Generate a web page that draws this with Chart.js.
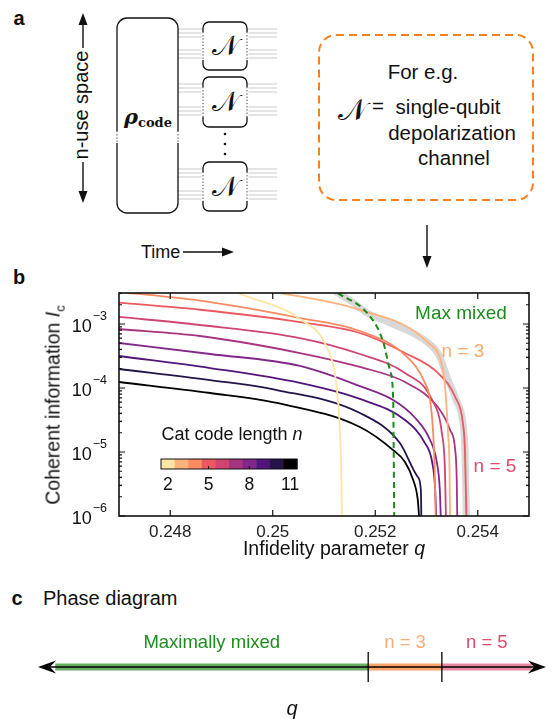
<!DOCTYPE html>
<html>
<head>
<meta charset="utf-8">
<script src="https://cdn.jsdelivr.net/npm/chart.js@4.4.1/dist/chart.umd.min.js"></script>
<style>
  html, body { margin: 0; padding: 0; background: #fff; }
  #page { position: relative; width: 555px; height: 719px; overflow: hidden;
          font-family: "Liberation Sans", Arial, sans-serif; color: #111; }
  .t { position: absolute; transform: translate(-50%, -50%); white-space: nowrap; line-height: 1; }
  canvas { position: absolute; left: 0; }
</style>
</head>
<body>
<div id="page">
  <svg id="schem" width="555" height="270" style="position:absolute;left:0;top:0"
       font-family="Liberation Sans, Arial, sans-serif" fill="#111">
    <text x="19" y="25" font-size="20" font-weight="bold" text-anchor="middle">a</text>
    <line x1="83" y1="48" x2="83" y2="22" stroke="#111" stroke-width="1.4"/>
    <polygon points="83,13 78.5,25 87.5,25"/>
    <line x1="83" y1="162" x2="83" y2="194" stroke="#111" stroke-width="1.4"/>
    <polygon points="83,203 78.5,191 87.5,191"/>
    <text transform="translate(88,105) rotate(-90)" font-size="20" text-anchor="middle">n-use space</text>
    <g id="wires"></g>
    <rect x="117" y="18" width="61" height="195" rx="10" fill="#fff" stroke="#111" stroke-width="1.3"/>
    <line x1="117" y1="131" x2="117" y2="143" stroke="#fff" stroke-width="3"/>
    <line x1="178" y1="131" x2="178" y2="143" stroke="#fff" stroke-width="3"/>
    <line x1="117" y1="131" x2="117" y2="143" stroke="#333" stroke-width="1" stroke-dasharray="1.2 2"/>
    <line x1="178" y1="131" x2="178" y2="143" stroke="#333" stroke-width="1" stroke-dasharray="1.2 2"/>
    <text x="148" y="124" text-anchor="middle" font-family="DejaVu Serif, serif" font-weight="bold"><tspan font-style="italic" font-size="21">ρ</tspan><tspan font-size="13" dy="3">code</tspan></text>
    <g id="boxes"></g>
    <circle cx="225" cy="134" r="1.3"/>
    <circle cx="225" cy="144" r="1.3"/>
    <circle cx="225" cy="154" r="1.3"/>
    <text x="141" y="258" font-size="18">Time</text>
    <line x1="183" y1="252" x2="226" y2="252" stroke="#111" stroke-width="1.4"/>
    <polygon points="234,252 222,247.5 222,256.5"/>
    <rect x="319" y="35" width="214" height="165" rx="17" fill="none" stroke="#f7801f" stroke-width="2" stroke-dasharray="8 5"/>
    <text x="423" y="79" font-size="20.5" text-anchor="middle">For e.g.</text>
    <text x="352" y="120" font-size="30" font-family="DejaVu Sans, serif" text-anchor="middle">𝒩</text>
    <text x="378" y="113" font-size="20.5" text-anchor="middle">=</text>
    <text x="448" y="114" font-size="20.5" text-anchor="middle">single-qubit</text>
    <text x="452" y="140" font-size="20.5" text-anchor="middle">depolarization</text>
    <text x="454" y="165" font-size="20.5" text-anchor="middle">channel</text>
    <line x1="427" y1="225" x2="427" y2="258" stroke="#111" stroke-width="1.4"/>
    <polygon points="427,268 422.5,256 431.5,256"/>
  </svg>

  <div class="t" style="left:19px;top:277px;font-size:20px;font-weight:bold">b</div>
  <canvas id="chartB" width="555" height="305" style="top:270px"></canvas>
  <div class="t" style="left:55px;top:405px;font-size:19.5px;transform:translate(-50%,-50%) rotate(-90deg)">Coherent information <i>I</i><sub style="font-size:13px">c</sub></div>
  <div class="t" style="left:334px;top:549px;font-size:19.5px">Infidelity parameter <i>q</i></div>
  <div class="t" style="left:461px;top:312px;font-size:19px;color:#1b8c1b">Max mixed</div>
  <div class="t" style="left:463px;top:350px;font-size:19px;color:#fca870">n = 3</div>
  <div class="t" style="left:495px;top:465px;font-size:19px;color:#e24a6c">n = 5</div>

  <div class="t" style="left:17px;top:598px;font-size:20px;font-weight:bold">c</div>
  <div class="t" style="left:43px;top:598px;font-size:20px;transform:translate(0,-50%)">Phase diagram</div>
  <canvas id="chartC" width="555" height="99" style="top:620px"></canvas>
</div>

<script>
// ---- panel b data: coherent information I_c vs infidelity q, per cat code length n ----
const codeLengths = [2, 3, 4, 5, 6, 7, 8, 9, 10, 11];
const lineColors = ['#fde5a6', '#feb27c', '#fb8a62', '#ec5860', '#cf4570',
                    '#a8347f', '#82268a', '#50167c', '#241449', '#000004'];

const q2 = [0.24907, 0.24942, 0.25053, 0.25106, 0.25123, 0.25131, 0.25134, 0.25135];
const ic2 = [3.65e-3, 2.84e-3, 1.20e-3, 4.22e-4, 1.33e-4, 2.21e-5, 3.65e-6, 8.7e-7];
const q3 = [0.24917, 0.25014, 0.25170, 0.25301, 0.25330, 0.25336, 0.25342, 0.25345, 0.25346];
const ic3 = [3.92e-3, 3.05e-3, 1.66e-3, 5.24e-4, 2.29e-4, 1.11e-4, 1.98e-5, 5.23e-6, 8.7e-7];
const q4 = [0.24700, 0.24858, 0.25053, 0.25170, 0.25258, 0.25297, 0.25307, 0.25313, 0.25316, 0.25318];
const ic4 = [3.16e-3, 2.31e-3, 1.24e-3, 7.78e-4, 3.28e-4, 1.20e-4, 6.49e-5, 1.98e-5, 5.23e-6, 8.7e-7];
const q5 = [0.24700, 0.24858, 0.25053, 0.25170, 0.25258, 0.25322, 0.25356, 0.25371, 0.25375, 0.25378];
const ic5 = [2.15e-3, 1.67e-3, 1.07e-3, 7.23e-4, 3.52e-4, 1.72e-4, 7.23e-5, 2.84e-5, 1.07e-5, 8.7e-7];
const q6 = [0.24700, 0.24858, 0.25053, 0.25170, 0.25258, 0.25311, 0.25330, 0.25336, 0.25338];
const ic6 = [1.29e-3, 9.65e-4, 6.04e-4, 3.40e-4, 1.72e-4, 6.49e-5, 1.98e-5, 5.23e-6, 8.7e-7];
const q7 = [0.24700, 0.24858, 0.25053, 0.25170, 0.25258, 0.25322, 0.25346, 0.25356, 0.25359, 0.25360];
const ic7 = [8.36e-4, 6.49e-4, 3.52e-4, 2.13e-4, 1.24e-4, 5.05e-5, 2.21e-5, 1.07e-5, 3.65e-6, 8.7e-7];
const q8 = [0.24700, 0.24878, 0.25053, 0.25170, 0.25235, 0.25278, 0.25307, 0.25320, 0.25326, 0.25328];
const ic8 = [5.05e-4, 3.40e-4, 2.21e-4, 1.07e-4, 6.49e-5, 3.40e-5, 1.54e-5, 6.98e-6, 2.55e-6, 8.7e-7];
const q9 = [0.24700, 0.24878, 0.25053, 0.25170, 0.25258, 0.25297, 0.25311, 0.25317, 0.25319];
const ic9 = [3.16e-4, 2.05e-4, 1.20e-4, 6.74e-5, 3.16e-5, 1.38e-5, 6.98e-6, 2.55e-6, 8.7e-7];
const q10 = [0.24700, 0.24878, 0.25008, 0.25170, 0.25248, 0.25283, 0.25289, 0.25290];
const ic10 = [1.98e-4, 1.33e-4, 9.30e-5, 4.07e-5, 1.38e-5, 4.07e-6, 2.55e-6, 8.7e-7];
const q11 = [0.24700, 0.24878, 0.25008, 0.25170, 0.25235, 0.25258, 0.25274, 0.25283, 0.25286];
const ic11 = [1.24e-4, 8.35e-5, 5.83e-5, 2.46e-5, 1.07e-5, 6.98e-6, 3.65e-6, 1.78e-6, 8.7e-7];

// maximally mixed (dashed) and the best-of-all envelope (grey band)
const qMaxMixed = [0.25112, 0.25127, 0.25184, 0.25215, 0.25229, 0.25235, 0.25236, 0.25237];
const icMaxMixed = [3.79e-3, 3.05e-3, 1.49e-3, 5.42e-4, 1.84e-4, 6.49e-5, 1.07e-5, 8.7e-7];
const qBest = [0.25112, 0.25127, 0.25155, 0.25184, 0.25229, 0.25301, 0.25324, 0.25340, 0.25358, 0.25371, 0.25375, 0.25378];
const icBest = [3.79e-3, 3.05e-3, 2.21e-3, 1.49e-3, 1.04e-3, 5.24e-4, 3.28e-4, 1.48e-4, 6.49e-5, 2.84e-5, 1.07e-5, 8.7e-7];

const xTicks = [0.248, 0.25, 0.252, 0.254];
const xTickLabels = ['0.248', '0.25', '0.252', '0.254'];
const yExponents = [-6, -5, -4, -3];
const yMax = 3.05e-3;
const colorbarLabels = [2, 5, 8, 11];

// ---- panel c data (schematic q axis, 0..1) ----
const phaseNames = ['Maximally mixed', 'n = 3', 'n = 5'];
const phaseEdges = [0.034, 0.65, 0.795, 0.972];
const phaseColors = ['#68ad64', '#fca46a', '#ea8aa2'];
const phaseTextColors = ['#1f8c1f', '#fdaa74', '#e2496d'];

const FONT = '"Liberation Sans", Arial, sans-serif';
Chart.defaults.font.family = FONT;
Chart.defaults.color = '#111';

// ---- schematic wires and channel boxes ----
const nBoxes = [[22, 48], [77, 50], [162, 49]];
let wires = '', boxes = '';
nBoxes.forEach(([top, h]) => {
  [7, 11, 15, h - 20, h - 16, h - 12].forEach(off => {
    const y = top + off;
    wires += `<line x1="178" y1="${y}" x2="203" y2="${y}" stroke="#c9c9c9" stroke-width="1"/>`;
    wires += `<line x1="247" y1="${y}" x2="277" y2="${y}" stroke="#c9c9c9" stroke-width="1"/>`;
  });
  boxes += `<rect x="203" y="${top}" width="44" height="${h}" rx="6" fill="#fff" stroke="#111" stroke-width="1.3"/>`;
  [203, 247].forEach(x => {
    boxes += `<line x1="${x}" y1="${top + 10}" x2="${x}" y2="${top + h - 10}" stroke="#fff" stroke-width="3"/>`;
    boxes += `<line x1="${x}" y1="${top + 10}" x2="${x}" y2="${top + h - 10}" stroke="#333" stroke-width="1" stroke-dasharray="1.2 2"/>`;
  });
  boxes += `<text x="225" y="${top + h / 2 + 9}" font-size="28" font-family="DejaVu Sans, serif" text-anchor="middle">𝒩</text>`;
});
document.getElementById('wires').innerHTML = wires;
document.getElementById('boxes').innerHTML = boxes;

// ---- panel b chart ----
const qSeries = [q2, q3, q4, q5, q6, q7, q8, q9, q10, q11];
const icSeries = [ic2, ic3, ic4, ic5, ic6, ic7, ic8, ic9, ic10, ic11];
const toPts = (qs, ics) => qs.map((q, i) => ({ x: q, y: ics[i] }));

const datasets = [
  { label: 'Max mixed', data: toPts(qMaxMixed, icMaxMixed), borderColor: '#1a8a1a',
    borderWidth: 2, borderDash: [6, 4], order: 0 },
  ...codeLengths.map((n, i) => ({
    label: 'n = ' + n, data: toPts(qSeries[i], icSeries[i]),
    borderColor: lineColors[i], borderWidth: 1.8, order: 5
  })),
  { label: 'optimal', data: toPts(qBest, icBest), borderColor: 'rgba(200,200,200,0.7)',
    borderWidth: 7, order: 20 }
];

const frameTicks = {
  id: 'frameTicks',
  afterDatasetsDraw(chart) {
    const { ctx, chartArea: a, scales: { x, y } } = chart;
    ctx.save();
    ctx.strokeStyle = '#111';
    ctx.lineWidth = 1.2;
    ctx.beginPath();
    xTicks.forEach(v => {
      const px = x.getPixelForValue(v);
      ctx.moveTo(px, a.bottom); ctx.lineTo(px, a.bottom - 6);
      ctx.moveTo(px, a.top); ctx.lineTo(px, a.top + 6);
    });
    yExponents.forEach(e => {
      for (let k = 1; k <= 9; k++) {
        const v = k * Math.pow(10, e);
        if (v > yMax) continue;
        const py = y.getPixelForValue(v);
        const len = k === 1 ? 6 : 3;
        ctx.moveTo(a.left, py); ctx.lineTo(a.left + len, py);
        ctx.moveTo(a.right, py); ctx.lineTo(a.right - len, py);
      }
    });
    ctx.stroke();
    ctx.lineWidth = 1.6;
    ctx.strokeRect(a.left, a.top, a.right - a.left, a.bottom - a.top);

    // y tick labels as 10 with superscript exponent
    ctx.fillStyle = '#111';
    ctx.textAlign = 'right';
    ctx.textBaseline = 'middle';
    yExponents.forEach(e => {
      const py = y.getPixelForValue(Math.pow(10, e));
      const sup = '\u2212' + Math.abs(e);
      ctx.font = '12.5px ' + FONT;
      const sw = ctx.measureText(sup).width;
      ctx.fillText(sup, a.left - 12, py - 7);
      ctx.font = '18px ' + FONT;
      ctx.fillText('10', a.left - 13 - sw, py + 3);
    });
    ctx.restore();
  }
};

const colorbar = {
  id: 'colorbar',
  afterDraw(chart) {
    const { ctx, chartArea: a } = chart;
    const left = a.left + 42, top = a.top + 166, w = 136, h = 10;
    const seg = w / codeLengths.length;
    ctx.save();
    codeLengths.forEach((n, i) => {
      ctx.fillStyle = lineColors[i];
      ctx.fillRect(left + i * seg, top, seg + 0.5, h);
    });
    ctx.strokeStyle = '#111';
    ctx.lineWidth = 1;
    ctx.strokeRect(left, top, w, h);
    ctx.fillStyle = '#111';
    ctx.textAlign = 'center';
    ctx.textBaseline = 'middle';
    ctx.font = '17.5px ' + FONT;
    ctx.beginPath();
    colorbarLabels.forEach(n => {
      const cx = left + (codeLengths.indexOf(n) + 0.5) * seg;
      ctx.fillText(String(n), cx, top + h + 16);
      if (n !== 2 && n !== 11) { ctx.moveTo(cx, top + h); ctx.lineTo(cx, top + h - 3); }
    });
    ctx.stroke();
    // title: "Cat code length n"
    const main = 'Cat code length ';
    ctx.font = '18px ' + FONT;
    const mw = ctx.measureText(main).width;
    ctx.font = 'italic 18px ' + FONT;
    const nw = ctx.measureText('n').width;
    const x0 = left + 71 - (mw + nw) / 2;
    ctx.textAlign = 'left';
    ctx.font = '18px ' + FONT;
    ctx.fillText(main, x0, top - 24);
    ctx.font = 'italic 18px ' + FONT;
    ctx.fillText('n', x0 + mw, top - 24);
    ctx.restore();
  }
};

new Chart(document.getElementById('chartB'), {
  type: 'line',
  data: { datasets },
  options: {
    responsive: false,
    animation: false,
    layout: { padding: { top: 23, right: 26, left: 0, bottom: 0 } },
    elements: {
      point: { radius: 0 },
      line: { cubicInterpolationMode: 'monotone', fill: false }
    },
    datasets: { line: { clip: 0 } },
    plugins: { legend: { display: false }, tooltip: { enabled: false } },
    scales: {
      x: {
        type: 'linear', min: 0.247, max: 0.255,
        grid: { display: false, drawTicks: false },
        border: { display: false },
        afterBuildTicks: s => { s.ticks = xTicks.map(v => ({ value: v })); },
        afterFit: s => { s.height = 59; },
        ticks: { padding: 6, color: '#222', font: { size: 17 }, maxRotation: 0,
                 callback: (v, i) => xTickLabels[i] }
      },
      y: {
        type: 'logarithmic', min: 1e-6, max: yMax,
        grid: { display: false, drawTicks: false },
        border: { display: false },
        ticks: { display: false },
        afterFit: s => { s.width = 119; }
      }
    }
  },
  plugins: [frameTicks, colorbar]
});

// ---- panel c chart: phase diagram along q ----
const phaseDatasets = [
  ...phaseNames.map((name, i) => ({
    label: name,
    data: [{ x: phaseEdges[i], y: 0.5 }, { x: phaseEdges[i + 1], y: 0.5 }],
    borderColor: phaseColors[i], borderWidth: 7, order: 3
  })),
  { label: 'axis', data: [{ x: 0.02, y: 0.5 }, { x: 0.98, y: 0.5 }],
    borderColor: '#000', borderWidth: 1.5, order: 1 },
  ...phaseEdges.slice(1, 3).map(b => ({
    label: 'edge', data: [{ x: b, y: 0 }, { x: b, y: 1 }],
    borderColor: '#000', borderWidth: 1.3, order: 0
  }))
];

const phaseDecor = {
  id: 'phaseDecor',
  afterDatasetsDraw(chart) {
    const { ctx, chartArea: a, scales: { x, y } } = chart;
    const ym = y.getPixelForValue(0.5);
    const l = x.getPixelForValue(0), r = x.getPixelForValue(1);
    ctx.save();
    ctx.fillStyle = '#000';
    ctx.beginPath();
    ctx.moveTo(l, ym); ctx.lineTo(l + 18, ym - 6.5); ctx.lineTo(l + 12, ym); ctx.lineTo(l + 18, ym + 6.5);
    ctx.closePath(); ctx.fill();
    ctx.beginPath();
    ctx.moveTo(r, ym); ctx.lineTo(r - 18, ym - 6.5); ctx.lineTo(r - 12, ym); ctx.lineTo(r - 18, ym + 6.5);
    ctx.closePath(); ctx.fill();
    ctx.textAlign = 'center';
    ctx.textBaseline = 'middle';
    ctx.font = '18.5px ' + FONT;
    phaseNames.forEach((name, i) => {
      ctx.fillStyle = phaseTextColors[i];
      ctx.fillText(name, x.getPixelForValue((phaseEdges[i] + phaseEdges[i + 1]) / 2), a.top - 9);
    });
    ctx.fillStyle = '#111';
    ctx.font = 'italic 20px ' + FONT;
    ctx.fillText('q', (l + r) / 2, a.bottom + 27);
    ctx.restore();
  }
};

new Chart(document.getElementById('chartC'), {
  type: 'scatter',
  data: { datasets: phaseDatasets },
  options: {
    responsive: false,
    animation: false,
    showLine: true,
    layout: { padding: { top: 32, right: 9, left: 38, bottom: 37 } },
    elements: { point: { radius: 0 } },
    datasets: { scatter: { clip: false } },
    plugins: { legend: { display: false }, tooltip: { enabled: false } },
    scales: {
      x: { type: 'linear', min: 0, max: 1, display: false },
      y: { type: 'linear', min: 0, max: 1, display: false }
    }
  },
  plugins: [phaseDecor]
});
</script>
</body>
</html>
